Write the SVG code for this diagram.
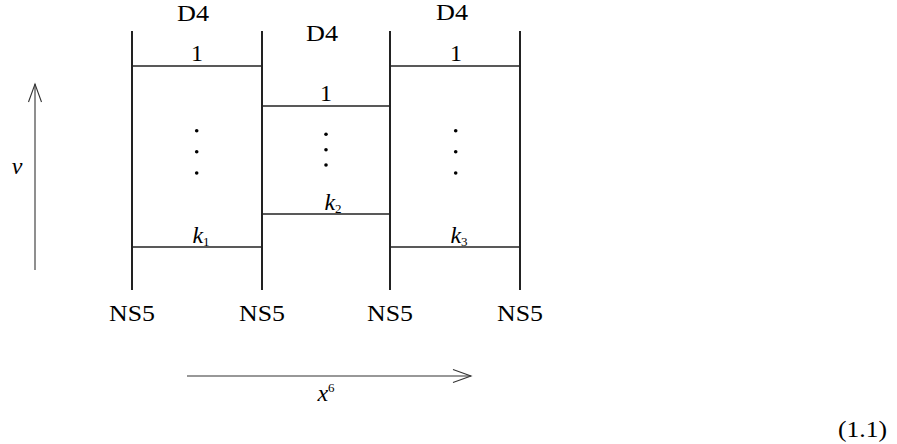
<svg xmlns="http://www.w3.org/2000/svg" width="897" height="444" viewBox="0 0 897 444">
<style>
text{font-family:"Liberation Serif","Times New Roman","DejaVu Serif",serif;fill:#000;font-size:24px;text-anchor:middle}
.it{font-style:italic}
.sub{font-size:13px}
.brane{stroke:#222;stroke-width:2;fill:none}
.d4{stroke:#222;stroke-width:1.6;fill:none}
.ax{stroke:#333;stroke-width:1.1;fill:none}
.dot{fill:#000}
</style>
<rect width="897" height="444" fill="#fff"/>
<g id="ns5-1"><line class="brane" x1="132" y1="31" x2="132" y2="290"/><text x="132" y="320.5" textLength="46" lengthAdjust="spacingAndGlyphs">NS5</text></g>
<g id="ns5-2"><line class="brane" x1="262" y1="31" x2="262" y2="290"/><text x="262" y="320.5" textLength="46" lengthAdjust="spacingAndGlyphs">NS5</text></g>
<g id="ns5-3"><line class="brane" x1="390" y1="31" x2="390" y2="290"/><text x="390" y="320.5" textLength="46" lengthAdjust="spacingAndGlyphs">NS5</text></g>
<g id="ns5-4"><line class="brane" x1="520" y1="31" x2="520" y2="290"/><text x="520" y="320.5" textLength="46" lengthAdjust="spacingAndGlyphs">NS5</text></g>
<g id="stack-1">
<text x="193" y="20.5" textLength="32" lengthAdjust="spacingAndGlyphs">D4</text>
<line class="d4" x1="132" y1="66" x2="262" y2="66"/><text x="197" y="60.5">1</text>
<circle class="dot" cx="196.7" cy="130.7" r="1.8"/><circle class="dot" cx="196.7" cy="151.7" r="1.8"/><circle class="dot" cx="196.7" cy="173" r="1.8"/>
<line class="d4" x1="132" y1="247" x2="262" y2="247"/><text x="201" y="242.5"><tspan class="it">k</tspan><tspan class="sub" dy="3">1</tspan></text>
</g>
<g id="stack-2">
<text x="322" y="40.5" textLength="32" lengthAdjust="spacingAndGlyphs">D4</text>
<line class="d4" x1="262" y1="106" x2="390" y2="106"/><text x="326" y="100.5">1</text>
<circle class="dot" cx="326" cy="134.3" r="1.8"/><circle class="dot" cx="326" cy="149.7" r="1.8"/><circle class="dot" cx="326" cy="165" r="1.8"/>
<line class="d4" x1="262" y1="214" x2="390" y2="214"/><text x="333" y="209.5"><tspan class="it">k</tspan><tspan class="sub" dy="3">2</tspan></text>
</g>
<g id="stack-3">
<text x="452" y="19.5" textLength="32" lengthAdjust="spacingAndGlyphs">D4</text>
<line class="d4" x1="390" y1="66" x2="520" y2="66"/><text x="456" y="60.5">1</text>
<circle class="dot" cx="455.7" cy="130.7" r="1.8"/><circle class="dot" cx="455.7" cy="151.7" r="1.8"/><circle class="dot" cx="455.7" cy="173" r="1.8"/>
<line class="d4" x1="390" y1="247" x2="520" y2="247"/><text x="459" y="242.5"><tspan class="it">k</tspan><tspan class="sub" dy="3">3</tspan></text>
</g>
<g id="connectors">
<line class="ax" x1="35" y1="270" x2="35" y2="84"/>
<polyline class="ax" points="28.5,102 35,84 41.5,102"/>
<line class="ax" x1="187" y1="376" x2="471" y2="376"/>
<polyline class="ax" points="453,369.5 471,376 453,382.5"/>
</g>
<text class="it" x="17" y="173.5">v</text>
<text x="326" y="400.5"><tspan class="it">x</tspan><tspan class="sub" dy="-9">6</tspan></text>
<text x="862.5" y="437" style="font-size:23px" textLength="49" lengthAdjust="spacingAndGlyphs">(1.1)</text>
</svg>
